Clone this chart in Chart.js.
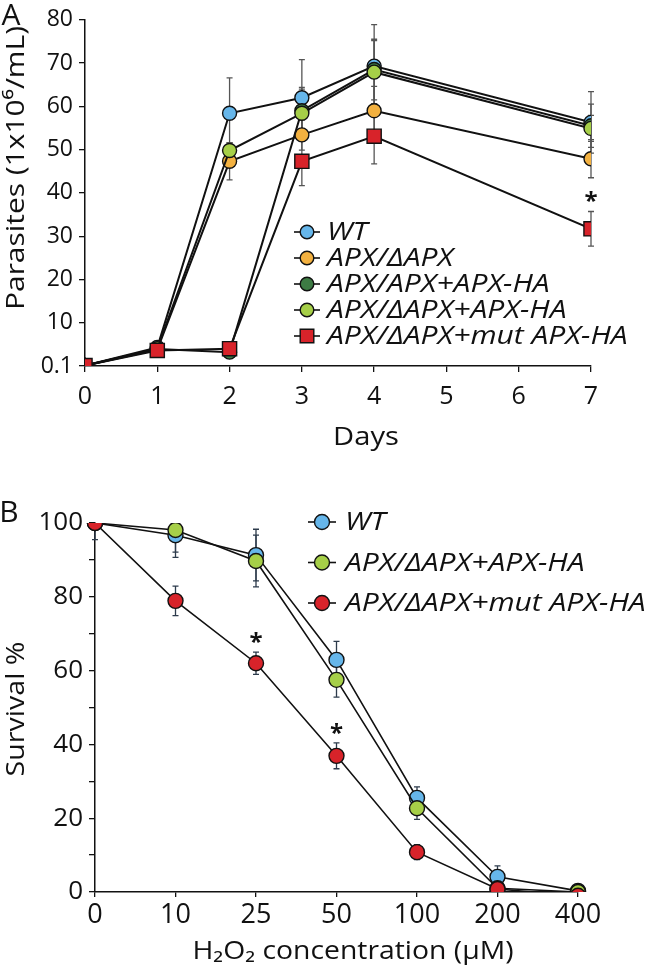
<!DOCTYPE html>
<html>
<head>
<meta charset="utf-8">
<script src="https://cdn.jsdelivr.net/npm/chart.js@4.4.0/dist/chart.umd.min.js"></script>
<style>
  html, body { margin: 0; padding: 0; background: #fff; }
  .wrap { position: absolute; left: 0; width: 650px; }
  #wrapA { top: 0; height: 470px; }
  #wrapB { top: 470px; height: 497px; }
</style>
</head>
<body>
<div class="wrap" id="wrapA"><canvas id="chartA" width="650" height="470"></canvas></div>
<div class="wrap" id="wrapB"><canvas id="chartB" width="650" height="497"></canvas></div>
<script>
const FONT = "'Open Sans', 'Noto Sans', sans-serif";
Chart.defaults.font.family = FONT;
Chart.defaults.color = '#111';

// ---- panel A: growth curves ----
const days = [0, 1, 2, 3, 4, 7];
const wtA        = [0.1, 4.3, 58.4, 62.0, 69.3, 56.3];
const delta      = [0.1, 3.8, 47.3, 53.4, 59.0, 47.9];
const apxApxHA   = [0.1, 3.9, 3.2, 59.0, 68.5, 55.5];
const deltaHA    = [0.1, 4.0, 49.8, 58.4, 67.9, 54.9];
const mutA       = [0.1, 3.6, 4.0, 47.3, 53.1, 31.7];

const wtAErr      = [0, 0.5, 8.2, 8.8, 9.6, 7.1];
const deltaErr    = [0, 0.5, 4.3, 3.5, 5.6, 4.4];
const apxApxHAErr = [0, 0.5, 0.5, 5.0, 7.0, 5.0];
const deltaHAErr  = [0, 0.5, 1.8, 6.0, 7.3, 3.0];
const mutAErr     = [0, 0.3, 0.5, 5.6, 6.4, 4.0];

const parasiteTicks = [0, 10, 20, 30, 40, 50, 60, 70, 80];

// ---- panel B: H2O2 survival ----
const conc = ['0', '10', '25', '50', '100', '200', '400'];
const wtB    = [100, 96.7, 91.3, 62.9, 25.5, 4.1, 0.3];
const haB    = [100, 98.1, 89.7, 57.5, 22.7, 1.0, 0];
const mutB   = [100, 78.9, 62.0, 36.9, 10.8, 0.8, -1];
const wtBErr  = [4.5, 6, 7, 5, 3, 3, 0];
const haBErr  = [0, 6, 7, 4.7, 3, 0.5, 0];
const mutBErr = [0, 4, 3, 3.5, 2, 0.5, 0];

const BLUE = '#66b6ea', ORANGE = '#f3b140', DKGREEN = '#3d7b44', LTGREEN = '#a6cf48', RED = '#d8232a';

const pts = (vals) => vals.map((v, i) => ({ x: days[i], y: v }));

// error bars drawn under the markers
const errorBars = {
  id: 'errorBars',
  beforeDatasetsDraw(chart, args, opts) {
    const ctx = chart.ctx, ys = chart.scales.y, a = chart.chartArea;
    ctx.save();
    ctx.beginPath();
    ctx.rect(a.left - 10, a.top, a.right - a.left + 20, a.bottom - a.top);
    ctx.clip();
    ctx.strokeStyle = opts.color;
    ctx.lineWidth = opts.width;
    chart.data.datasets.forEach((ds, i) => {
      const meta = chart.getDatasetMeta(i);
      (ds.errors || []).forEach((e, j) => {
        if (!e) return;
        const v = meta.controller.getParsed(j).y;
        const px = meta.data[j].x;
        const top = ys.getPixelForValue(v + e), bot = ys.getPixelForValue(v - e);
        ctx.beginPath();
        ctx.moveTo(px, top); ctx.lineTo(px, bot);
        ctx.moveTo(px - opts.cap, top); ctx.lineTo(px + opts.cap, top);
        ctx.moveTo(px - opts.cap, bot); ctx.lineTo(px + opts.cap, bot);
        ctx.stroke();
      });
    });
    ctx.restore();
  }
};

// legend, stars, axis titles, panel letter
const extras = {
  id: 'extras',
  afterDraw(chart, args, opts) {
    const ctx = chart.ctx, ys = chart.scales.y;
    ctx.save();
    // stars over marked points
    ctx.fillStyle = '#111';
    ctx.font = 'bold 24px ' + FONT;
    ctx.textAlign = 'center';
    ctx.textBaseline = 'middle';
    chart.data.datasets.forEach((ds, i) => {
      const meta = chart.getDatasetMeta(i);
      (ds.stars || []).forEach(j => {
        const v = meta.controller.getParsed(j).y + (ds.errors ? ds.errors[j] : 0);
        ctx.fillText('*', meta.data[j].x, ys.getPixelForValue(v) - opts.starGap);
      });
    });
    // legend
    const lg = opts.legend;
    ctx.font = 'italic ' + lg.size + 'px ' + FONT;
    ctx.textAlign = 'left';
    lg.order.forEach((di, r) => {
      const ds = chart.data.datasets[di];
      const y = lg.y + r * lg.dy;
      ctx.strokeStyle = '#111';
      ctx.lineWidth = 1.6;
      ctx.beginPath();
      ctx.moveTo(lg.x - lg.half, y); ctx.lineTo(lg.x + lg.half, y);
      ctx.stroke();
      ctx.fillStyle = ds.pointBackgroundColor;
      ctx.lineWidth = 1.4;
      ctx.beginPath();
      if (ds.pointStyle === 'rect') {
        ctx.rect(lg.x - lg.r, y - lg.r, lg.r * 2, lg.r * 2);
      } else {
        ctx.arc(lg.x, y, lg.r, 0, Math.PI * 2);
      }
      ctx.fill(); ctx.stroke();
      ctx.fillStyle = '#111';
      ctx.save();
      ctx.translate(lg.textX, y + 1);
      ctx.scale(lg.sx, 1);
      ctx.fillText(ds.label, 0, 0);
      ctx.restore();
    });
    // titles
    opts.titles.forEach(t => {
      ctx.save();
      ctx.font = t.font;
      ctx.fillStyle = '#111';
      ctx.textAlign = 'center';
      ctx.textBaseline = 'middle';
      ctx.translate(t.x, t.y);
      if (t.rot) ctx.rotate(-Math.PI / 2);
      ctx.scale(t.sx || 1, 1);
      ctx.fillText(t.text, 0, 0);
      ctx.restore();
    });
    ctx.restore();
  }
};

function lineSet(label, vals, errs, color, order, extra) {
  return Object.assign({
    label, data: vals, errors: errs, order,
    borderColor: '#111', borderWidth: 2, tension: 0,
    pointBackgroundColor: color, pointBorderColor: '#111', pointBorderWidth: 1.4,
    pointRadius: 7, pointStyle: 'circle', fill: false
  }, extra || {});
}

function axisY(min, max, step, width, size, cb) {
  return {
    min, max,
    border: { display: true, color: '#111', width: 1.5 },
    grid: { display: true, drawOnChartArea: false, drawTicks: true, tickLength: 6, color: '#111', lineWidth: 1.3 },
    ticks: { stepSize: step, padding: 6, font: { size }, color: '#111', callback: cb },
    afterFit: s => { s.width = width; }
  };
}

new Chart(document.getElementById('chartA'), {
  type: 'line',
  data: {
    datasets: [
      lineSet('WT', pts(wtA), wtAErr, BLUE, 5),
      lineSet('APX/\u0394APX', pts(delta), deltaErr, ORANGE, 4),
      lineSet('APX/APX+APX-HA', pts(apxApxHA), apxApxHAErr, DKGREEN, 3),
      lineSet('APX/\u0394APX+APX-HA', pts(deltaHA), deltaHAErr, LTGREEN, 2),
      lineSet('APX/\u0394APX+mut APX-HA', pts(mutA), mutAErr, RED, 1,
        { pointStyle: 'rect', pointRadius: 10, stars: [5] })
    ]
  },
  options: {
    responsive: false, animation: false,
    layout: { padding: { left: 0, right: 59, top: 14, bottom: 0 } },
    plugins: {
      legend: { display: false }, tooltip: { enabled: false },
      errorBars: { color: '#555', width: 1.3, cap: 3 },
      extras: {
        starGap: 9,
        legend: { x: 307, y: 232, dy: 26, half: 13, r: 6.8, textX: 327, size: 25, sx: 1.2, order: [0, 1, 2, 3, 4] },
        titles: [
          { text: 'A', x: 11, y: 16, font: '30px ' + FONT },
          { text: 'Parasites (1x10\u2076/mL)', x: 17, y: 168, rot: true, sx: 1.15, font: '26px ' + FONT },
          { text: 'Days', x: 366, y: 438, sx: 1.12, font: '26px ' + FONT }
        ]
      }
    },
    scales: {
      x: {
        type: 'linear', min: 0, max: 7,
        border: { display: true, color: '#111', width: 1.5 },
        grid: { display: true, drawOnChartArea: false, drawTicks: true, tickLength: 6, color: '#111', lineWidth: 1.3 },
        ticks: { stepSize: 1, padding: 10, font: { size: 25 }, color: '#111', maxRotation: 0 },
        afterFit: s => { s.height = 104; }
      },
      y: axisY(0, 80, 10, 85, 23, v => (v === 0 ? '0.1' : (parasiteTicks.includes(v) ? v : '')))
    }
  },
  plugins: [errorBars, extras]
});

new Chart(document.getElementById('chartB'), {
  type: 'line',
  data: {
    labels: conc,
    datasets: [
      lineSet('WT', wtB, wtBErr, BLUE, 3, { borderWidth: 1.6, pointRadius: 7.5 }),
      lineSet('APX/\u0394APX+APX-HA', haB, haBErr, LTGREEN, 2, { borderWidth: 1.6, pointRadius: 7.5 }),
      lineSet('APX/\u0394APX+mut APX-HA', mutB, mutBErr, RED, 1, { borderWidth: 1.6, pointRadius: 7.5, stars: [2, 3] })
    ]
  },
  options: {
    responsive: false, animation: false,
    layout: { padding: { left: 0, right: 72, top: 53, bottom: 0 } },
    plugins: {
      legend: { display: false }, tooltip: { enabled: false },
      errorBars: { color: '#2d3b4c', width: 1.3, cap: 3 },
      extras: {
        starGap: 9,
        legend: { x: 322, y: 52, dy: 40.5, half: 14, r: 7.5, textX: 345, size: 25, sx: 1.2, order: [0, 1, 2] },
        titles: [
          { text: 'B', x: 9, y: 43, font: '30px ' + FONT },
          { text: 'Survival %', x: 17, y: 239, rot: true, sx: 1.1, font: '26px ' + FONT },
          { text: 'H\u2082O\u2082 concentration (\u03bcM)', x: 353, y: 482, sx: 1.09, font: '26px ' + FONT }
        ]
      }
    },
    scales: {
      x: {
        type: 'category', offset: false,
        border: { display: true, color: '#111', width: 1.5 },
        grid: { display: true, offset: false, drawOnChartArea: false, drawTicks: true, tickLength: 5, color: '#111', lineWidth: 1.3 },
        ticks: { padding: 2, font: { size: 27 }, color: '#111', maxRotation: 0, autoSkip: false },
        afterFit: s => { s.height = 75; }
      },
      y: axisY(0, 100, 10, 95, 26, v => (v % 20 === 0 ? v : ''))
    }
  },
  plugins: [errorBars, extras]
});
</script>
</body>
</html>
